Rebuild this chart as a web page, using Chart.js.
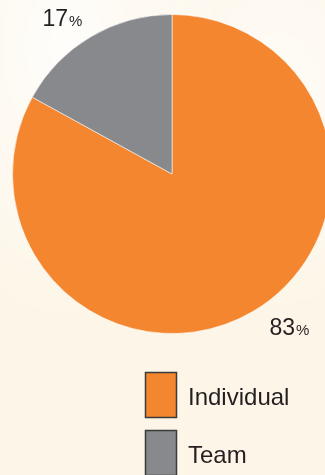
<!DOCTYPE html>
<html>
<head>
<meta charset="utf-8">
<script src="https://cdn.jsdelivr.net/npm/chart.js@4"></script>
<style>
  html, body { margin: 0; padding: 0; overflow: hidden; width: 325px; height: 475px; }
  body {
    background:
      radial-gradient(ellipse at 20% 10%, rgba(255,255,255,0.8), rgba(255,255,255,0) 45%),
      radial-gradient(ellipse at 85% 20%, rgba(255,255,255,0.7), rgba(255,255,255,0) 40%),
      #fdf6e8;
  }
  #wrap { position: absolute; left: 0; top: 0; width: 344px; height: 475px; }
</style>
</head>
<body>
<div id="wrap"><canvas id="pie-chart"></canvas></div>
<script>
"use strict";

Chart.defaults.font.family = "'Liberation Sans', Arial, sans-serif";

var labels = ["Individual", "Team"];
var values = [83, 17];
var colors = ["#f3862e", "#88898c"];

// offsets of the percent labels from the pie centre
var labelOffsets = [[117, 161], [-110, -148]];

var pctLabels = {
  id: "pctLabels",
  afterDatasetsDraw: function (chart) {
    var ctx = chart.ctx;
    var meta = chart.getDatasetMeta(0);
    ctx.save();
    ctx.fillStyle = "#231f20";
    ctx.textBaseline = "alphabetic";
    meta.data.forEach(function (arc, i) {
      var num = String(chart.data.datasets[0].data[i]);
      var x = arc.x + labelOffsets[i][0];
      var y = arc.y + labelOffsets[i][1];
      ctx.font = "23px 'Liberation Sans', Arial, sans-serif";
      var w1 = ctx.measureText(num).width;
      ctx.font = "15px 'Liberation Sans', Arial, sans-serif";
      var w2 = ctx.measureText("%").width;
      var x0 = x - (w1 + w2) / 2;
      ctx.font = "23px 'Liberation Sans', Arial, sans-serif";
      ctx.textAlign = "left";
      ctx.fillText(num, x0, y);
      ctx.font = "15px 'Liberation Sans', Arial, sans-serif";
      ctx.fillText("%", x0 + w1 + 1, y);
    });
    ctx.restore();
  }
};

var boxLegend = {
  id: "boxLegend",
  afterDraw: function (chart) {
    var ctx = chart.ctx;
    var ds = chart.data.datasets[0];
    ctx.save();
    chart.data.labels.forEach(function (lab, i) {
      var top = 372 + i * 58;
      ctx.fillStyle = ds.backgroundColor[i];
      ctx.fillRect(145, top, 32, 46);
      ctx.lineWidth = 1.5;
      ctx.strokeStyle = "#3b3b3b";
      ctx.strokeRect(145.5, top + 0.5, 31, 45);
      ctx.fillStyle = "#231f20";
      ctx.font = "24px 'Liberation Sans', Arial, sans-serif";
      ctx.textAlign = "left";
      ctx.textBaseline = "alphabetic";
      ctx.fillText(lab, 188, top + 33);
    });
    ctx.restore();
  }
};

var ctx1 = document.getElementById("pie-chart").getContext("2d");

var pieChart = new Chart(ctx1, {
  type: "pie",
  data: {
    labels: labels,
    datasets: [
      {
        data: values,
        backgroundColor: colors,
        borderColor: "rgba(255,255,255,0.55)",
        borderWidth: 1,
      },
    ],
  },
  options: {
    responsive: true,
    maintainAspectRatio: false,
    animation: false,
    layout: {
      padding: { left: 12, right: 12, top: 14, bottom: 141 },
    },
    plugins: {
      legend: { display: false },
      tooltip: { enabled: false },
    },
  },
  plugins: [pctLabels, boxLegend],
});
</script>
</body>
</html>
